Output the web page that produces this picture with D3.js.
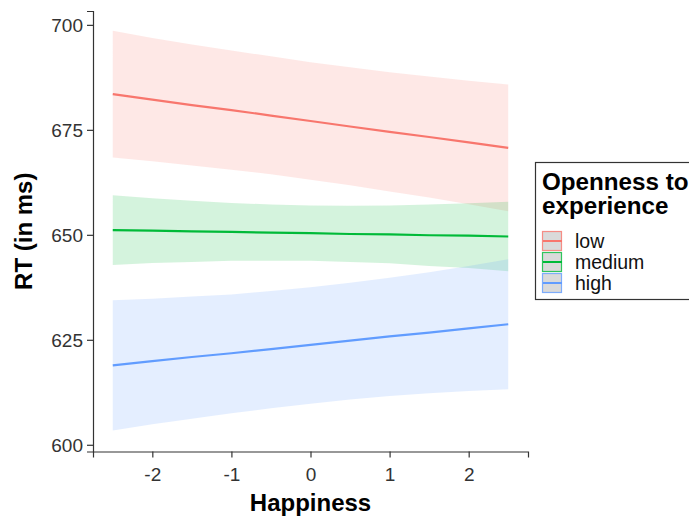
<!DOCTYPE html>
<html>
<head>
<meta charset="utf-8">
<script src="https://cdn.jsdelivr.net/npm/d3@7"></script>
<style>
  body { margin: 0; background: #fff; }
  svg { display: block; font-family: "Liberation Sans", Arial, sans-serif; }
</style>
</head>
<body>
<div id="chart"></div>
<script>
// Werte
const happiness = [-2.5, -2, -1.5, -1, -0.5, 0, 0.5, 1, 1.5, 2, 2.5];

const groups = ['low', 'medium', 'high'];
const colors = ['#F8766D', '#00BA38', '#619CFF'];

const lowFit   = [683.5, 682.2, 680.9, 679.7, 678.4, 677.1, 675.8, 674.5, 673.3, 672.0, 670.7];
const lowUpper = [698.6, 696.9, 695.3, 693.9, 692.5, 691.1, 689.9, 688.7, 687.7, 686.7, 685.8];
const lowLower = [668.4, 667.5, 666.5, 665.5, 664.4, 663.1, 661.8, 660.3, 658.9, 657.3, 655.6];

const medFit   = [651.1, 651.0, 650.8, 650.7, 650.5, 650.4, 650.2, 650.1, 649.9, 649.8, 649.6];
const medUpper = [659.4, 658.7, 658.1, 657.6, 657.2, 657.0, 656.9, 657.0, 657.2, 657.5, 657.9];
const medLower = [642.8, 643.3, 643.5, 643.8, 643.8, 643.8, 643.5, 643.2, 642.6, 642.1, 641.3];

const highFit   = [618.9, 619.9, 620.9, 621.8, 622.8, 623.8, 624.8, 625.8, 626.7, 627.7, 628.7];
const highUpper = [634.4, 634.8, 635.3, 635.8, 636.6, 637.5, 638.6, 639.8, 641.1, 642.6, 644.2];
const highLower = [603.4, 604.9, 606.2, 607.5, 608.7, 609.8, 610.8, 611.6, 612.3, 612.8, 613.2];

const xTicks = [-2, -1, 0, 1, 2];
const yTicks = [600, 625, 650, 675, 700];

const series = [
    { name: 'low', fit: lowFit, upper: lowUpper, lower: lowLower },
    { name: 'medium', fit: medFit, upper: medUpper, lower: medLower },
    { name: 'high', fit: highFit, upper: highUpper, lower: highLower }
];

const width = 689, height = 517;
const plot = { left: 93, right: 528, top: 11, bottom: 451.5 };

const svg = d3.select('#chart').append('svg')
    .attr('width', width)
    .attr('height', height);

const x = d3.scaleLinear().domain([-2.75, 2.75]).range([plot.left, plot.right]);
const y = d3.scaleLinear().domain([598.4, 703.3]).range([plot.bottom, plot.top]);
const color = d3.scaleOrdinal().domain(groups).range(colors);

// Bänder
const area = d3.area()
    .x(d => x(d.x))
    .y0(d => y(d.lo))
    .y1(d => y(d.hi));

const line = d3.line()
    .x(d => x(d.x))
    .y(d => y(d.v));

series.forEach(s => {
    const pts = happiness.map((h, i) => ({ x: h, lo: s.lower[i], hi: s.upper[i] }));
    svg.append('path')
        .datum(pts)
        .attr('d', area)
        .attr('fill', color(s.name))
        .attr('fill-opacity', 0.17);
});

series.forEach(s => {
    const pts = happiness.map((h, i) => ({ x: h, v: s.fit[i] }));
    svg.append('path')
        .datum(pts)
        .attr('d', line)
        .attr('fill', 'none')
        .attr('stroke', color(s.name))
        .attr('stroke-width', 2.2);
});

// Achsen
const xAxis = svg.append('g')
    .attr('transform', `translate(0,${plot.bottom})`)
    .call(d3.axisBottom(x).tickValues(xTicks).tickSize(6).tickPadding(5).tickFormat(d3.format('d')));

const yAxis = svg.append('g')
    .attr('transform', `translate(${plot.left},0)`)
    .call(d3.axisLeft(y).tickValues(yTicks).tickSize(6).tickPadding(4));

[xAxis, yAxis].forEach(g => {
    g.select('.domain').attr('stroke', '#333').attr('stroke-width', 1.2);
    g.selectAll('.tick line').attr('stroke', '#333').attr('stroke-width', 1.2);
    g.selectAll('.tick text')
        .attr('fill', '#333')
        .style('font-size', '19px')
        .style('font-family', '"Liberation Sans", Arial, sans-serif');
});
xAxis.selectAll('.tick text').attr('dy', '0.95em');
yAxis.selectAll('.tick text').attr('dy', '0.35em');
xAxis.selectAll('.tick text').text(d => d < 0 ? '-' + Math.abs(d) : d);

svg.append('text')
    .attr('x', (plot.left + plot.right) / 2)
    .attr('y', 511)
    .attr('text-anchor', 'middle')
    .attr('font-weight', 'bold')
    .attr('font-size', 24)
    .text('Happiness');

svg.append('text')
    .attr('transform', `translate(32,${(plot.top + plot.bottom) / 2}) rotate(-90)`)
    .attr('text-anchor', 'middle')
    .attr('font-weight', 'bold')
    .attr('font-size', 24)
    .text('RT (in ms)');

// Legende
const legend = svg.append('g');
legend.append('rect')
    .attr('x', 535.5).attr('y', 162.5)
    .attr('width', 200).attr('height', 137)
    .attr('fill', '#fff')
    .attr('stroke', '#333')
    .attr('stroke-width', 1.2);

legend.append('text')
    .attr('x', 542).attr('y', 190)
    .attr('font-weight', 'bold').attr('font-size', 24.2)
    .text('Openness to');
legend.append('text')
    .attr('x', 542).attr('y', 214)
    .attr('font-weight', 'bold').attr('font-size', 24.2)
    .text('experience');

groups.forEach((g, i) => {
    const ky = 231 + i * 21;
    legend.append('rect')
        .attr('x', 542.5).attr('y', ky + 0.5)
        .attr('width', 19).attr('height', 19)
        .attr('fill', '#dadada')
        .attr('stroke', color(g))
        .attr('stroke-opacity', 0.8)
        .attr('stroke-width', 1.2);
    legend.append('line')
        .attr('x1', 543).attr('x2', 562)
        .attr('y1', ky + 10).attr('y2', ky + 10)
        .attr('stroke', color(g))
        .attr('stroke-width', 2);
    legend.append('text')
        .attr('x', 575).attr('y', ky + 10)
        .attr('dy', '0.36em')
        .attr('font-size', 19.5)
        .attr('fill', '#111')
        .text(g);
});
</script>
</body>
</html>
